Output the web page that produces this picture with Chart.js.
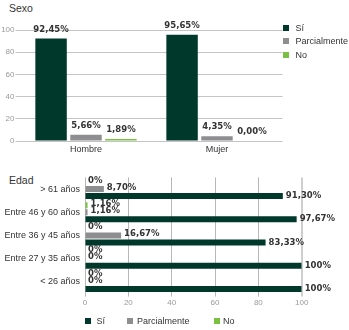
<!DOCTYPE html>
<html>
<head>
<meta charset="utf-8">
<script src="https://cdn.jsdelivr.net/npm/chart.js@4/dist/chart.umd.min.js"></script>
<style>
  html, body { margin: 0; padding: 0; background: #fff; }
  body { width: 349px; height: 330px; position: relative; overflow: hidden; font-family: 'Liberation Sans', Arial, sans-serif; color: #333; }
  canvas { position: absolute; left: 0; }
  .title { position: absolute; font-size: 10.5px; line-height: 12px; color: #333; }
  .sq { position: absolute; width: 6px; height: 6px; }
  .lt { position: absolute; font-size: 9px; line-height: 12px; color: #333; white-space: nowrap; }
</style>
</head>
<body>
<div class="title" style="left:9px; top:2px;">Sexo</div>
<canvas id="c1" width="349" height="165" style="top:0"></canvas>
<div class="title" style="left:9px; top:174px;">Edad</div>
<canvas id="c2" width="349" height="165" style="top:165px"></canvas>
<div id="leg1"></div>
<div id="leg2"></div>
<script>
// ---- data ----
const seriesNames = ['Sí', 'Parcialmente', 'No'];
const seriesColors = ['#00392b', '#8e8e90', '#7ac143'];

const sexoCategories = ['Hombre', 'Mujer'];
const sexoSi = [92.45, 95.65];
const sexoParcial = [5.66, 4.35];
const sexoNo = [1.89, 0.00];
const sexoTicks = [0, 20, 40, 60, 80, 100];

const edadCategories = ['> 61 años', 'Entre 46 y 60 años', 'Entre 36 y 45 años', 'Entre 27 y 35 años', '< 26 años'];
const edadSi = [91.30, 97.67, 83.33, 100, 100];
const edadParcial = [8.70, 1.16, 16.67, 0, 0];
const edadNo = [0, 1.16, 0, 0, 0];
const edadTicks = [0, 20, 40, 60, 80, 100];

Chart.defaults.font.family = "'Liberation Sans', Arial, sans-serif";
Chart.defaults.color = '#333';

const labelFont = "bold 8.5px 'DejaVu Sans', Verdana, sans-serif";

function fmt2(v) { return v.toFixed(2).replace('.', ',') + '%'; }
function fmtAuto(v) { return Number.isInteger(v) ? v + '%' : fmt2(v); }

const vLabels = {
  id: 'vLabels',
  afterDatasetsDraw(chart) {
    const ctx = chart.ctx;
    ctx.save();
    ctx.font = labelFont;
    ctx.fillStyle = '#333';
    ctx.textAlign = 'center';
    ctx.textBaseline = 'middle';
    chart.data.datasets.forEach((ds, i) => {
      chart.getDatasetMeta(i).data.forEach((el, j) => {
        ctx.fillText(fmt2(ds.data[j]), el.x, el.y - 9);
      });
    });
    ctx.restore();
  }
};

const hLabels = {
  id: 'hLabels',
  afterDatasetsDraw(chart) {
    const ctx = chart.ctx;
    ctx.save();
    ctx.font = labelFont;
    ctx.fillStyle = '#333';
    ctx.textAlign = 'left';
    ctx.textBaseline = 'middle';
    chart.data.datasets.forEach((ds, i) => {
      chart.getDatasetMeta(i).data.forEach((el, j) => {
        const dy = ds.label === 'Sí' ? 0 : -1.5;
        ctx.fillText(fmtAuto(ds.data[j]), el.x + 3, el.y + dy);
      });
    });
    ctx.restore();
  }
};

// ---- chart 1: Sexo ----
new Chart(document.getElementById('c1'), {
  type: 'bar',
  data: {
    labels: sexoCategories,
    datasets: [
      { label: seriesNames[0], data: sexoSi, backgroundColor: seriesColors[0] },
      { label: seriesNames[1], data: sexoParcial, backgroundColor: seriesColors[1] },
      { label: seriesNames[2], data: sexoNo, backgroundColor: seriesColors[2] }
    ]
  },
  options: {
    responsive: false,
    devicePixelRatio: 1,
    animation: false,
    layout: { padding: { top: 30, right: 66.5, left: 0, bottom: 0 } },
    datasets: { bar: { categoryPercentage: 0.8, barPercentage: 0.9 } },
    plugins: { legend: { display: false }, tooltip: { enabled: false } },
    scales: {
      x: {
        grid: { display: false, drawTicks: false },
        border: { display: false },
        ticks: { font: { size: 9 }, color: '#333', padding: 3 },
        afterFit(s) { s.height = 24; }
      },
      y: {
        min: 0, max: 100,
        afterBuildTicks(s) { s.ticks = sexoTicks.map(v => ({ value: v })); },
        grid: { color: '#c4c4c4', tickLength: 5 },
        border: { display: false },
        ticks: { font: { size: 8 }, color: '#9a9a9a', padding: 1 },
        afterFit(s) { s.width = 20.5; }
      }
    }
  },
  plugins: [vLabels]
});

// ---- chart 2: Edad ----
new Chart(document.getElementById('c2'), {
  type: 'bar',
  data: {
    labels: edadCategories,
    datasets: [
      { label: seriesNames[2], data: edadNo, backgroundColor: seriesColors[2] },
      { label: seriesNames[1], data: edadParcial, backgroundColor: seriesColors[1] },
      { label: seriesNames[0], data: edadSi, backgroundColor: seriesColors[0] }
    ]
  },
  options: {
    indexAxis: 'y',
    responsive: false,
    devicePixelRatio: 1,
    animation: false,
    layout: { padding: { top: 12.4, right: 47.3, left: 0, bottom: 0 } },
    datasets: { bar: { categoryPercentage: 0.9, barPercentage: 0.86 } },
    plugins: { legend: { display: false }, tooltip: { enabled: false } },
    scales: {
      x: {
        min: 0, max: 100,
        afterBuildTicks(s) { s.ticks = edadTicks.map(v => ({ value: v })); },
        grid: {
          color: (c) => (c.tick && c.tick.value === 100) ? '#cfcfcf' : '#b8b8b8',
          lineWidth: (c) => (c.tick && c.tick.value === 100) ? 2 : 1,
          tickLength: 3
        },
        border: { display: false },
        ticks: { font: { size: 8 }, color: '#9a9a9a', padding: 1 },
        afterFit(s) { s.height = 36.4; }
      },
      y: {
        grid: { display: false, drawTicks: false },
        border: { display: false },
        ticks: { font: { size: 9 }, color: '#333', padding: 5 },
        afterFit(s) { s.width = 85; }
      }
    }
  },
  plugins: [hLabels]
});

// ---- HTML legends ----
function addLegend(containerId, items) {
  const c = document.getElementById(containerId);
  items.forEach(it => {
    const sq = document.createElement('div');
    sq.className = 'sq';
    sq.style.left = it.sx + 'px';
    sq.style.top = (it.cy - 3) + 'px';
    sq.style.background = it.color;
    c.appendChild(sq);
    const t = document.createElement('div');
    t.className = 'lt';
    t.style.left = it.tx + 'px';
    t.style.top = (it.cy - 6) + 'px';
    t.textContent = it.text;
    c.appendChild(t);
  });
}
addLegend('leg1', [
  { text: seriesNames[0], color: seriesColors[0], sx: 283, tx: 295.5, cy: 27.5 },
  { text: seriesNames[1], color: seriesColors[1], sx: 283, tx: 295.5, cy: 41 },
  { text: seriesNames[2], color: seriesColors[2], sx: 283, tx: 295.5, cy: 54.5 }
]);
addLegend('leg2', [
  { text: seriesNames[0], color: seriesColors[0], sx: 85, tx: 96.5, cy: 321 },
  { text: seriesNames[1], color: seriesColors[1], sx: 126.5, tx: 137, cy: 321 },
  { text: seriesNames[2], color: seriesColors[2], sx: 214, tx: 223, cy: 321 }
]);
</script>
</body>
</html>
